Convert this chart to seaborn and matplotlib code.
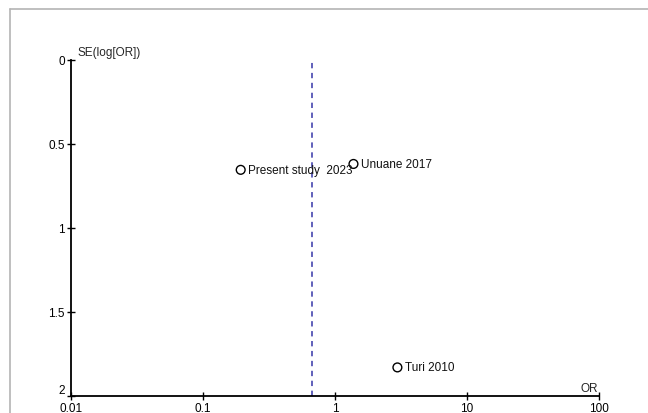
import numpy as np
import pandas as pd
import matplotlib
matplotlib.use("Agg")
import matplotlib.pyplot as plt
from matplotlib.lines import Line2D
import seaborn as sns

# Funnel plot data
studies = ["Present study  2023", "Unuane 2017", "Turi 2010"]
odds_ratio = [0.193, 1.38, 2.97]
se_log_or = [0.655, 0.62, 1.83]
pooled_or = 0.673

x_ticks = [0.01, 0.1, 1, 10, 100]
x_tick_labels = ["0.01", "0.1", "1", "10", "100"]
y_ticks = [0, 0.5, 1, 1.5, 2]
y_tick_labels = ["0", "0.5", "1", "1.5", "2"]

df = pd.DataFrame({"study": studies, "OR": odds_ratio, "SE": se_log_or})

sns.set_style("white")
plt.rcParams["font.family"] = ["Liberation Sans", "DejaVu Sans"]

fig = plt.figure(figsize=(6.48, 4.14), dpi=100)
ax = fig.add_axes([71 / 648, 1 - 397 / 414, 528 / 648, (397 - 60.7) / 414])

sns.scatterplot(data=df, x="OR", y="SE", ax=ax, marker="o", s=40,
                facecolor="none", edgecolor="black", linewidth=1.0, zorder=3)

for _, row in df.iterrows():
    ax.annotate(row["study"], (row["OR"], row["SE"]), xytext=(5.5, 0),
                textcoords="offset points", va="center", ha="left",
                fontsize=8.5, color="#111111")

# pooled estimate
ax.axvline(pooled_or, color="#3636a8", linestyle=(0, (3.5, 3)), linewidth=1.1,
           zorder=2)

ax.set_xscale("log")
ax.set_xlim(0.01, 100)
ax.set_ylim(2, 0)
ax.set_xticks(x_ticks)
ax.set_xticklabels(x_tick_labels)
ax.set_yticks(y_ticks)
ax.set_yticklabels(y_tick_labels)
ax.minorticks_off()
ax.tick_params(axis="both", bottom=True, left=True, direction="inout",
               length=6, width=1.0, labelsize=8.5, colors="black", pad=1.5)
ax.tick_params(axis="x", pad=1.0)
ax.set_xlabel("")
ax.set_ylabel("")
# lift the "2" label slightly so it clears "0.01"
ax.get_yticklabels()[-1].set_va("bottom")

for side in ["top", "right"]:
    ax.spines[side].set_visible(False)
for side in ["left", "bottom"]:
    ax.spines[side].set_color("black")
    ax.spines[side].set_linewidth(1.3)

ax.text(77 / 648, 1 - 53 / 414, "SE(log[OR])", transform=fig.transFigure,
        fontsize=8.5, ha="left", va="center")
ax.text(598 / 648, 1 - 389 / 414, "OR", transform=fig.transFigure,
        fontsize=8.5, ha="right", va="center")

# light frame around the plot area
fig.add_artist(Line2D([9.5 / 648, 1], [1 - 9.5 / 414] * 2,
                      transform=fig.transFigure, color="#b4b4b4", lw=1.2))
fig.add_artist(Line2D([9.5 / 648] * 2, [0, 1 - 9.5 / 414],
                      transform=fig.transFigure, color="#b4b4b4", lw=1.2))

fig.savefig("out.png", dpi=100)
